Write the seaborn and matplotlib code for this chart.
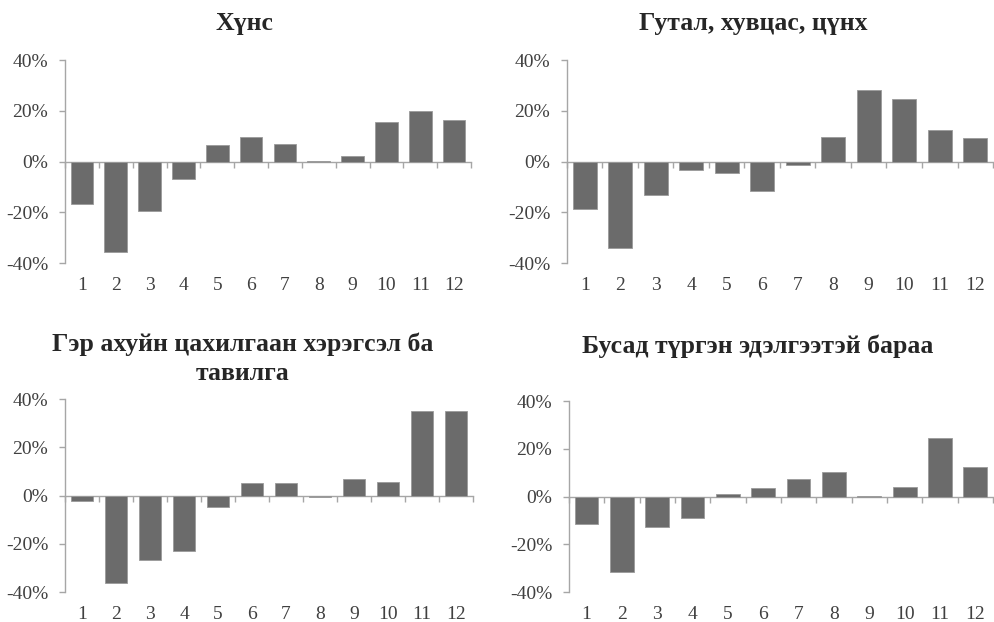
import numpy as np
import pandas as pd
import matplotlib
matplotlib.use('Agg')
import matplotlib.pyplot as plt
import seaborn as sns
from matplotlib.ticker import PercentFormatter

months = [str(m) for m in range(1, 13)]

# жилийн өөрчлөлт, %
huns = [-16.6, -35.6, -19.3, -7.0, 6.5, 9.5, 7.1, 0.3, 2.2, 15.7, 19.9, 16.4]
gutal = [-18.6, -34.1, -13.1, -3.3, -4.4, -11.4, -1.2, 9.6, 28.0, 24.8, 12.4, 9.4]
ger_ahui = [-2.4, -36.4, -26.8, -23.1, -4.6, 5.1, 5.1, -0.7, 6.8, 5.8, 34.9, 35.1]
busad = [-11.4, -31.7, -12.6, -8.8, 1.0, 3.5, 7.4, 10.1, 0.3, 3.9, 24.6, 12.2]

titles = ['Хүнс', 'Гутал, хувцас, цүнх',
          'Гэр ахуйн цахилгаан хэрэгсэл ба\nтавилга', 'Бусад түргэн эдэлгээтэй бараа']
series = [huns, gutal, ger_ahui, busad]

sns.set_style('white')
plt.rcParams['font.family'] = ['Liberation Serif', 'DejaVu Serif']
plt.rcParams['axes.unicode_minus'] = False

gray = '#a6a6a6'
bar_color = '#6b6b6b'
text_color = '#404040'

fig = plt.figure(figsize=(9.94, 6.22), dpi=100)

# [left, bottom, width, height] in figure fractions
positions = [
    [0.0654, 0.577, 0.4085, 0.3265],
    [0.5704, 0.577, 0.4286, 0.3265],
    [0.0654, 0.0482, 0.4105, 0.3103],
    [0.5724, 0.0482, 0.4266, 0.3071],
]
title_xy = [(0.246, 0.963), (0.758, 0.963), (0.244, 0.423), (0.762, 0.444)]

for vals, title, pos, txy in zip(series, titles, positions, title_xy):
    ax = fig.add_axes(pos)
    df = pd.DataFrame({'Сар': months, 'Өөрчлөлт': vals})
    sns.barplot(data=df, x='Сар', y='Өөрчлөлт', ax=ax, color=bar_color,
                width=0.67, edgecolor='#9a9a9a', linewidth=0.6, saturation=1)
    ax.set_xlim(-0.5, len(months) - 0.5)
    ax.set_ylim(-40, 40)
    ax.set_yticks([-40, -20, 0, 20, 40])
    ax.yaxis.set_major_formatter(PercentFormatter(100, decimals=0))
    ax.set_xlabel('')
    ax.set_ylabel('')

    for s in ['top', 'right', 'bottom']:
        ax.spines[s].set_visible(False)
    ax.spines['left'].set_color(gray)
    ax.spines['left'].set_linewidth(1.0)
    ax.tick_params(axis='y', direction='out', length=4, width=1, color=gray,
                   labelsize=14, labelcolor=text_color, pad=8, left=True)
    ax.tick_params(axis='x', length=0, labelsize=14, labelcolor=text_color, pad=10)

    # category axis crossing at zero
    sec = ax.secondary_xaxis(0, transform=ax.transData)
    sec.set_xticks(np.arange(-0.5, len(months), 1))
    sec.tick_params(direction='out', length=4, width=1, color=gray, labelbottom=False)
    sec.spines['bottom'].set_color(gray)
    sec.spines['bottom'].set_linewidth(1.0)

    fig.text(txy[0], txy[1], title, ha='center', va='center', fontsize=18.5,
             fontweight='bold', color='#262626', linespacing=1.3)

fig.savefig('out.png', dpi=100, facecolor='white')
